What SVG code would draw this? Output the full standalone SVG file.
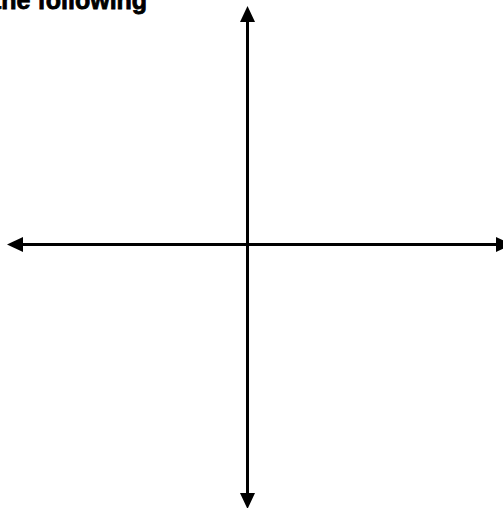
<svg xmlns="http://www.w3.org/2000/svg" width="503" height="508" viewBox="0 0 503 508">
<style>
.ax{stroke:#000;stroke-width:3;fill:none}
.hd{fill:#000}
.t{font-family:"Liberation Sans",Arial,sans-serif;font-weight:bold;font-size:25px;fill:#000;stroke:#000;stroke-width:0.8}
</style>
<rect width="503" height="508" fill="#fff"/>
<g id="title"><text class="t" x="-7" y="9">the following</text></g>
<g id="connectors">
<line class="ax" x1="247.5" y1="20" x2="247.5" y2="495"/>
<line class="ax" x1="22" y1="244.5" x2="497" y2="244.5"/>
<polygon class="hd" points="247.5,6 240,22 255,22"/>
<polygon class="hd" points="247.5,509 240,493 255,493"/>
<polygon class="hd" points="7,244.5 23,237 23,252"/>
<polygon class="hd" points="512,244.5 496,237 496,252"/>
</g>
</svg>
